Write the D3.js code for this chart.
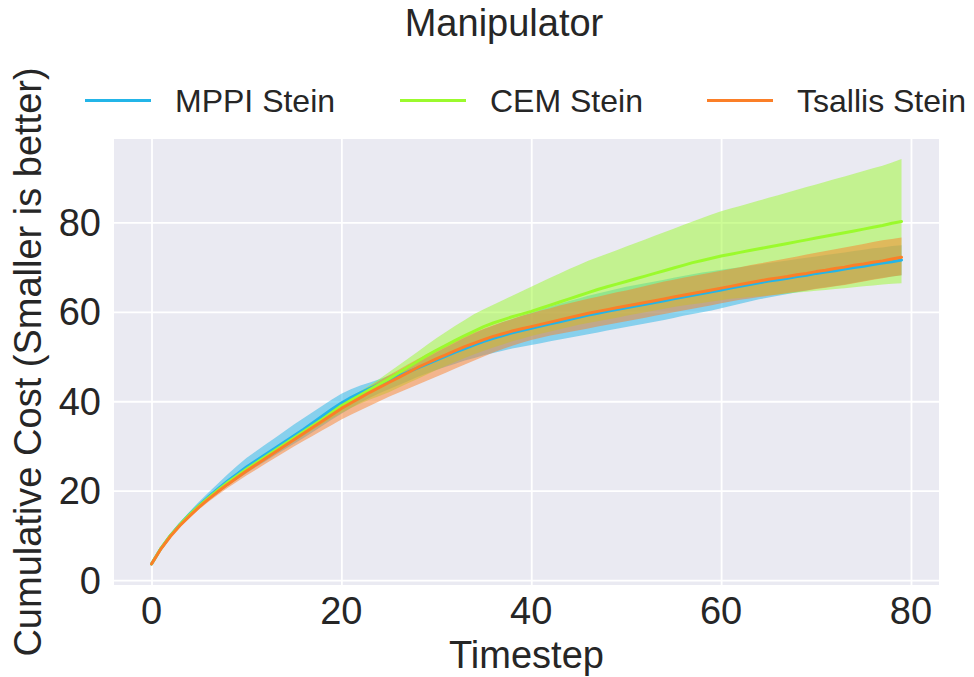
<!DOCTYPE html>
<html>
<head>
<meta charset="utf-8">
<script src="https://cdn.jsdelivr.net/npm/d3@7/dist/d3.min.js"></script>
<style>
html,body{margin:0;padding:0;background:#fff;}
svg{display:block;font-family:"Liberation Sans",Arial,sans-serif;}
</style>
</head>
<body>
<svg id="chart" width="974" height="677"></svg>
<script>
// ---------------- data ----------------
const timesteps = d3.range(0, 80);
const seriesNames = ["MPPI Stein", "CEM Stein", "Tsallis Stein"];
const seriesColors = ["#23b5e8", "#9bfa2d", "#fb7f28"];
const xTicks = [0, 20, 40, 60, 80];
const yTicks = [0, 20, 40, 60, 80];

const mppiMean = [3.6,7.1,10.0,12.5,14.7,16.7,18.6,20.4,22.1,23.7,25.3,26.7,28.1,29.5,30.9,32.3,33.7,35.2,36.7,38.2,39.6,40.8,41.9,42.9,43.8,44.7,45.6,46.5,47.4,48.3,49.2,50.1,51.0,51.8,52.6,53.4,54.1,54.7,55.3,55.8,56.3,56.8,57.3,57.8,58.3,58.8,59.3,59.7,60.1,60.5,60.9,61.3,61.7,62.1,62.5,62.9,63.3,63.7,64.1,64.5,64.9,65.3,65.7,66.1,66.5,66.9,67.2,67.5,67.9,68.2,68.6,68.9,69.2,69.6,69.9,70.2,70.6,70.9,71.2,71.6];
const mppiUpper = [3.7,7.3,10.3,12.9,15.3,17.5,19.6,21.6,23.6,25.5,27.3,28.8,30.3,31.8,33.3,34.8,36.2,37.6,39.0,40.4,41.7,42.7,43.5,44.2,44.9,45.7,46.6,47.6,48.7,49.8,50.9,52.0,53.1,54.2,55.2,56.1,56.9,57.7,58.4,59.1,59.8,60.5,61.2,61.8,62.4,63.0,63.6,64.1,64.6,65.1,65.6,66.0,66.4,66.8,67.2,67.6,68.0,68.4,68.8,69.1,69.4,69.7,70.0,70.3,70.6,70.9,71.2,71.5,71.8,72.1,72.4,72.7,73.0,73.3,73.6,73.9,74.2,74.4,74.7,74.9];
const mppiLower = [3.5,6.9,9.7,12.1,14.2,16.0,17.8,19.4,21.0,22.5,23.9,25.3,26.6,27.9,29.2,30.5,31.8,33.1,34.5,35.9,37.2,38.5,39.7,40.8,41.8,42.7,43.6,44.5,45.4,46.2,47.0,47.7,48.4,49.1,49.7,50.3,50.8,51.3,51.8,52.2,52.6,53.0,53.4,53.8,54.2,54.6,55.0,55.4,55.8,56.2,56.6,57.0,57.4,57.8,58.2,58.6,59.1,59.5,59.9,60.3,60.8,61.3,61.8,62.3,62.8,63.2,63.6,64.0,64.4,64.8,65.2,65.5,65.8,66.1,66.5,66.9,67.3,67.6,67.9,68.2];

const cemMean = [3.6,7.1,10.0,12.4,14.6,16.6,18.4,20.1,21.8,23.3,24.8,26.2,27.6,29.0,30.4,31.8,33.2,34.6,36.0,37.5,39.0,40.2,41.4,42.6,43.8,45.0,46.3,47.6,48.9,50.2,51.4,52.5,53.6,54.7,55.7,56.7,57.5,58.2,58.9,59.5,60.1,60.8,61.5,62.2,62.9,63.6,64.3,65.0,65.6,66.2,66.8,67.4,68.0,68.6,69.2,69.8,70.4,71.0,71.5,72.0,72.5,72.9,73.3,73.7,74.1,74.5,74.9,75.3,75.7,76.1,76.5,76.9,77.3,77.7,78.1,78.5,78.9,79.3,79.8,80.2];
const cemUpper = [3.7,7.3,10.2,12.7,15.0,17.0,18.9,20.6,22.3,23.8,25.3,26.7,28.1,29.5,30.9,32.3,33.7,35.2,36.7,38.2,39.7,41.0,42.3,43.6,45.0,46.5,48.0,49.5,51.0,52.6,54.1,55.5,56.9,58.2,59.5,60.6,61.6,62.6,63.6,64.6,65.6,66.6,67.6,68.6,69.6,70.5,71.4,72.2,73.0,73.8,74.6,75.4,76.2,77.0,77.8,78.6,79.4,80.2,81.0,81.8,82.5,83.1,83.7,84.3,84.9,85.5,86.1,86.7,87.3,87.9,88.5,89.1,89.7,90.3,90.9,91.5,92.1,92.7,93.4,94.2];
const cemLower = [3.5,6.9,9.7,12.1,14.2,16.1,17.9,19.5,21.1,22.6,24.1,25.5,26.9,28.3,29.7,31.0,32.3,33.6,34.9,36.2,37.4,38.5,39.5,40.4,41.2,42.0,43.0,44.0,45.0,46.0,47.0,47.9,48.8,49.7,50.5,51.3,52.0,52.7,53.4,54.0,54.6,55.1,55.6,56.1,56.6,57.1,57.5,57.9,58.3,58.7,59.1,59.5,59.9,60.3,60.7,61.1,61.4,61.7,62.0,62.3,62.6,62.9,63.1,63.3,63.5,63.7,63.9,64.1,64.3,64.5,64.7,64.9,65.1,65.3,65.5,65.7,65.9,66.1,66.3,66.4];

const tsallisMean = [3.6,7.0,9.8,12.2,14.3,16.3,18.1,19.8,21.4,22.9,24.4,25.8,27.2,28.6,30.0,31.4,32.8,34.2,35.6,37.0,38.4,39.6,40.8,42.0,43.1,44.2,45.3,46.4,47.5,48.5,49.5,50.4,51.3,52.2,53.0,53.8,54.5,55.1,55.7,56.2,56.7,57.2,57.7,58.2,58.7,59.2,59.7,60.1,60.5,60.9,61.3,61.7,62.1,62.5,62.9,63.3,63.7,64.1,64.5,64.9,65.3,65.7,66.1,66.5,66.9,67.3,67.6,67.9,68.3,68.6,69.0,69.3,69.7,70.0,70.4,70.7,71.1,71.4,71.8,72.2];
const tsallisUpper = [3.7,7.3,10.1,12.5,14.7,16.7,18.6,20.3,22.0,23.5,25.0,26.5,27.9,29.3,30.7,32.1,33.6,35.0,36.5,37.9,39.3,40.7,42.0,43.3,44.6,45.8,47.0,48.2,49.4,50.5,51.6,52.6,53.6,54.5,55.4,56.2,57.0,57.7,58.4,59.1,59.7,60.3,60.8,61.4,61.9,62.4,62.9,63.4,63.9,64.4,64.8,65.3,65.8,66.3,66.8,67.2,67.6,68.0,68.4,68.8,69.2,69.6,70.0,70.4,70.8,71.2,71.6,72.0,72.4,72.8,73.2,73.6,74.0,74.4,74.8,75.2,75.6,76.0,76.3,76.6];
const tsallisLower = [3.5,6.8,9.5,11.9,13.9,15.8,17.5,19.1,20.6,22.0,23.4,24.7,26.0,27.3,28.6,29.9,31.1,32.3,33.5,34.7,35.9,37.0,38.0,39.0,40.0,41.0,41.9,42.8,43.7,44.6,45.5,46.4,47.3,48.2,49.1,50.0,50.9,51.7,52.4,53.1,53.7,54.2,54.7,55.1,55.5,55.9,56.3,56.7,57.1,57.5,57.9,58.3,58.7,59.1,59.5,59.9,60.3,60.7,61.1,61.5,61.9,62.3,62.7,63.0,63.3,63.6,63.9,64.2,64.5,64.8,65.1,65.4,65.7,66.0,66.4,66.8,67.2,67.5,67.9,68.2];

const means = [mppiMean, cemMean, tsallisMean];
const uppers = [mppiUpper, cemUpper, tsallisUpper];
const lowers = [mppiLower, cemLower, tsallisLower];

// ---------------- layout ----------------
const svg = d3.select("#chart");
const plot = {left: 114, right: 939, top: 139, bottom: 585};
const bg = "#eaeaf2";
const textColor = "#262626";

const x = d3.scaleLinear().domain([-3.95, 82.95]).range([plot.left, plot.right]);
const y = d3.scaleLinear().domain([-1.1, 98.66]).range([plot.bottom, plot.top]);

svg.append("rect")
  .attr("x", plot.left).attr("y", plot.top)
  .attr("width", plot.right - plot.left).attr("height", plot.bottom - plot.top)
  .attr("fill", bg);

// grid via axes
const gx = svg.append("g")
  .attr("transform", `translate(0,${plot.bottom})`)
  .call(d3.axisBottom(x).tickValues(xTicks).tickSize(-(plot.bottom - plot.top)).tickFormat(""));
const gy = svg.append("g")
  .attr("transform", `translate(${plot.left},0)`)
  .call(d3.axisLeft(y).tickValues(yTicks).tickSize(-(plot.right - plot.left)).tickFormat(""));
[gx, gy].forEach(g => {
  g.select(".domain").remove();
  g.selectAll("line").attr("stroke", "#ffffff").attr("stroke-width", 1.8);
});

// clip
svg.append("clipPath").attr("id", "clip").append("rect")
  .attr("x", plot.left).attr("y", plot.top)
  .attr("width", plot.right - plot.left).attr("height", plot.bottom - plot.top);
const content = svg.append("g").attr("clip-path", "url(#clip)");

// bands (drawn below all lines)
seriesNames.forEach((name, i) => {
  const area = d3.area()
    .x(t => x(t))
    .y0(t => y(lowers[i][t]))
    .y1(t => y(uppers[i][t]));
  content.append("path")
    .datum(timesteps)
    .attr("d", area)
    .attr("fill", seriesColors[i])
    .attr("fill-opacity", 0.5)
    .attr("stroke", "none");
});

// lines
seriesNames.forEach((name, i) => {
  const line = d3.line().x(t => x(t)).y(t => y(means[i][t]));
  content.append("path")
    .datum(timesteps)
    .attr("d", line)
    .attr("fill", "none")
    .attr("stroke", seriesColors[i])
    .attr("stroke-width", 3)
    .attr("stroke-linejoin", "round")
    .attr("stroke-linecap", "round");
});

// tick labels
const fs = 38;
svg.append("g").selectAll("text").data(xTicks).join("text")
  .attr("x", d => x(d)).attr("y", 624)
  .attr("text-anchor", "middle")
  .attr("font-size", fs).attr("fill", textColor)
  .text(d => d);
svg.append("g").selectAll("text").data(yTicks).join("text")
  .attr("x", 101).attr("y", d => y(d) + 13.5)
  .attr("text-anchor", "end")
  .attr("font-size", fs).attr("fill", textColor)
  .text(d => d);

// axis labels
svg.append("text")
  .attr("x", (plot.left + plot.right) / 2).attr("y", 668)
  .attr("text-anchor", "middle")
  .attr("font-size", fs).attr("fill", textColor)
  .text("Timestep");
svg.append("text")
  .attr("transform", `translate(41,${(plot.top + plot.bottom) / 2}) rotate(-90)`)
  .attr("text-anchor", "middle")
  .attr("font-size", fs).attr("fill", textColor)
  .text("Cumulative Cost (Smaller is better)");

// title
svg.append("text")
  .attr("x", 504).attr("y", 36)
  .attr("text-anchor", "middle")
  .attr("font-size", fs).attr("fill", textColor)
  .text("Manipulator");

// legend
const legendX = [85, 400, 707];
const lg = svg.append("g");
seriesNames.forEach((name, i) => {
  lg.append("line")
    .attr("x1", legendX[i]).attr("x2", legendX[i] + 66)
    .attr("y1", 100.5).attr("y2", 100.5)
    .attr("stroke", seriesColors[i]).attr("stroke-width", 3.2);
  lg.append("text")
    .attr("x", legendX[i] + 90).attr("y", 112)
    .attr("font-size", 32).attr("fill", textColor)
    .text(name);
});
</script>
</body>
</html>
